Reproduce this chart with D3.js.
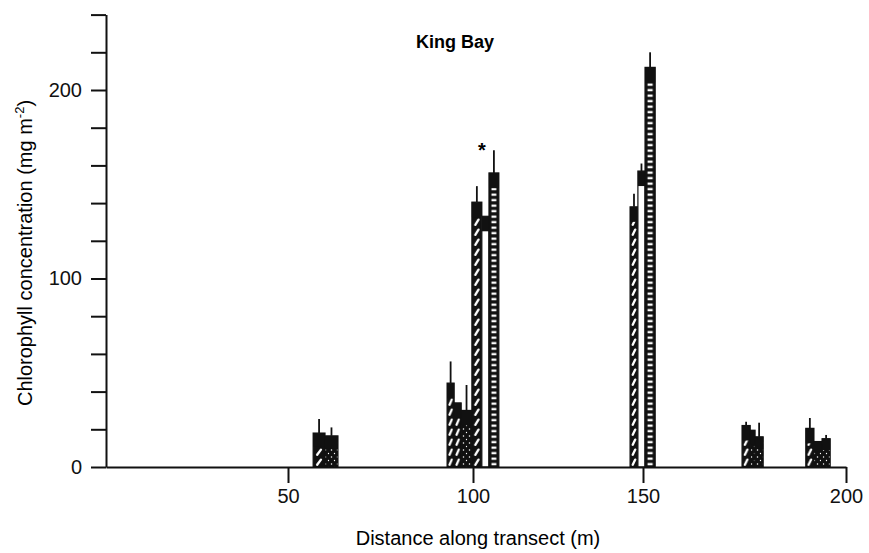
<!DOCTYPE html>
<html>
<head>
<meta charset="utf-8">
<script src="https://cdn.jsdelivr.net/npm/d3@7"></script>
<style>
  body { margin: 0; background: #fff; }
  svg { font-family: "Liberation Sans", Arial, Helvetica, sans-serif; }
  .axis path, .axis line { stroke: #111; stroke-width: 2; }
  .axis text { font-size: 20px; fill: #111; }
</style>
</head>
<body>
<div id="chart"></div>
<script>
// bar edges along the transect (m), mean chlorophyll, top of error bar, fill type
const barFrom  = [56.8, 60.0, 93.0, 94.9, 96.8, 99.7, 102.6, 104.7, 146.2, 148.5, 150.5, 174.4, 176.4, 177.6, 190.1, 192.1, 194.1];
const barTo    = [60.0, 63.5, 94.9, 96.8, 99.7, 102.6, 104.7, 107.6, 148.5, 150.5, 153.0, 176.4, 177.6, 179.6, 192.1, 194.1, 196.1];
const chlValue = [18, 16.5, 44.5, 34, 30, 140.5, 133, 156, 138, 157, 212, 22, 19.5, 16, 20.5, 13.5, 15];
const chlError = [25.5, 21, 56, null, 43.5, 149, null, 168, 145, 161, 220, 24, null, 23.5, 26, null, 17];
const fillType = ['hatch', 'dots', 'hatch', 'hatch', 'dots', 'hatch', 'open', 'ladder', 'hatch', 'open', 'ladder',
                  'hatch', 'dots', 'dots', 'hatch', 'dots', 'dots'];

const xTicks = [50, 100, 150, 200];
const yTicks = d3.range(0, 241, 20);
const yLabelled = [0, 100, 200];
const asterisk = { x: 102.6, y: 170 };

const WIDTH = 869, HEIGHT = 553;

// the scanned axis is slightly uneven, so the x scale is piecewise
const xScale = d3.scaleLinear().domain([0, 50, 100, 150, 200]).range([106, 288, 473, 643, 846]);
const yScale = d3.scaleLinear().domain([0, 240]).range([467, 14.6]);

const svg = d3.select('#chart').append('svg')
  .attr('width', WIDTH)
  .attr('height', HEIGHT);

const bars = barFrom.map((f, i) => ({
  i, x0: xScale(f), x1: xScale(barTo[i]),
  v: chlValue[i], e: chlError[i], type: fillType[i]
}));

// per-bar fill patterns so the marks line up inside each bar
const defs = svg.append('defs');
defs.append('pattern')
  .attr('id', 'dots')
  .attr('patternUnits', 'userSpaceOnUse')
  .attr('width', 6).attr('height', 7)
  .call(p => {
    p.append('rect').attr('width', 6).attr('height', 7).attr('fill', '#111');
    p.append('circle').attr('cx', 1.5).attr('cy', 2).attr('r', 0.75).attr('fill', '#fff');
    p.append('circle').attr('cx', 4.5).attr('cy', 5.5).attr('r', 0.65).attr('fill', '#fff');
  });

bars.forEach(b => {
  const w = b.x1 - b.x0;
  if (b.type === 'hatch') {
    const p = defs.append('pattern')
      .attr('id', 'fill-' + b.i)
      .attr('patternUnits', 'userSpaceOnUse')
      .attr('x', b.x0).attr('y', yScale(0))
      .attr('width', w).attr('height', 10);
    p.append('rect').attr('width', w).attr('height', 10).attr('fill', '#111');
    p.append('line')
      .attr('x1', w * 0.34).attr('y1', 7.8)
      .attr('x2', w * 0.66).attr('y2', 2.6)
      .attr('stroke', '#fff').attr('stroke-width', 2.3).attr('stroke-linecap', 'round');
  } else if (b.type === 'ladder') {
    const p = defs.append('pattern')
      .attr('id', 'fill-' + b.i)
      .attr('patternUnits', 'userSpaceOnUse')
      .attr('x', b.x0).attr('y', yScale(0))
      .attr('width', w).attr('height', 5.5);
    p.append('rect').attr('width', w).attr('height', 5.5).attr('fill', '#111');
    p.append('rect')
      .attr('x', 2.5).attr('y', 1.5)
      .attr('width', w - 5).attr('height', 2.3)
      .attr('fill', '#fff');
  }
});

const fillFor = b => b.type === 'open' ? '#fff'
  : b.type === 'dots' ? 'url(#dots)' : 'url(#fill-' + b.i + ')';

// error bars first, so bar tops sit over them
svg.append('g').selectAll('line')
  .data(bars.filter(b => b.e != null))
  .join('line')
  .attr('x1', b => (b.x0 + b.x1) / 2)
  .attr('x2', b => (b.x0 + b.x1) / 2)
  .attr('y1', b => yScale(b.v))
  .attr('y2', b => yScale(b.e))
  .attr('stroke', '#111')
  .attr('stroke-width', 1.8);

const barG = svg.append('g').selectAll('g')
  .data(bars)
  .join('g');

barG.append('rect')
  .attr('x', b => b.x0)
  .attr('y', b => yScale(b.v))
  .attr('width', b => b.x1 - b.x0)
  .attr('height', b => yScale(0) - yScale(b.v))
  .attr('fill', fillFor)
  .attr('stroke', '#111')
  .attr('stroke-width', 1.2);

// solid dark cap at the top of each bar
barG.append('rect')
  .attr('x', b => b.x0)
  .attr('y', b => yScale(b.v))
  .attr('width', b => b.x1 - b.x0)
  .attr('height', b => Math.min(15, (yScale(0) - yScale(b.v)) * 0.4))
  .attr('fill', '#111');

svg.append('text')
  .attr('x', xScale(asterisk.x))
  .attr('y', yScale(asterisk.y) + 10)
  .attr('text-anchor', 'middle')
  .style('font-size', '20px')
  .style('font-weight', 'bold')
  .text('*');

// axes
const xAxis = d3.axisBottom(xScale)
  .tickValues(xTicks)
  .tickSize(16)
  .tickSizeOuter(0)
  .tickPadding(6)
  .tickFormat(d3.format('d'));

const yAxis = d3.axisLeft(yScale)
  .tickValues(yTicks)
  .tickSize(15)
  .tickSizeOuter(0)
  .tickPadding(9)
  .tickFormat(d => yLabelled.includes(d) ? d : '');

svg.append('g')
  .attr('class', 'axis')
  .attr('transform', `translate(0,${yScale(0)})`)
  .call(xAxis);

svg.append('g')
  .attr('class', 'axis')
  .attr('transform', `translate(${xScale(0)},0)`)
  .call(yAxis);

svg.append('text')
  .attr('x', 455)
  .attr('y', 48)
  .attr('text-anchor', 'middle')
  .style('font-size', '18px')
  .style('font-weight', 'bold')
  .text('King Bay');

svg.append('text')
  .attr('x', 478)
  .attr('y', 545)
  .attr('text-anchor', 'middle')
  .style('font-size', '20px')
  .text('Distance along transect (m)');

const yTitle = svg.append('text')
  .attr('transform', 'translate(32,253) rotate(-90)')
  .attr('text-anchor', 'middle')
  .style('font-size', '20px');
yTitle.append('tspan').text('Chlorophyll concentration (mg m');
yTitle.append('tspan').attr('dy', -8).style('font-size', '13px').text('-2');
yTitle.append('tspan').attr('dy', 8).text(')');
</script>
</body>
</html>
